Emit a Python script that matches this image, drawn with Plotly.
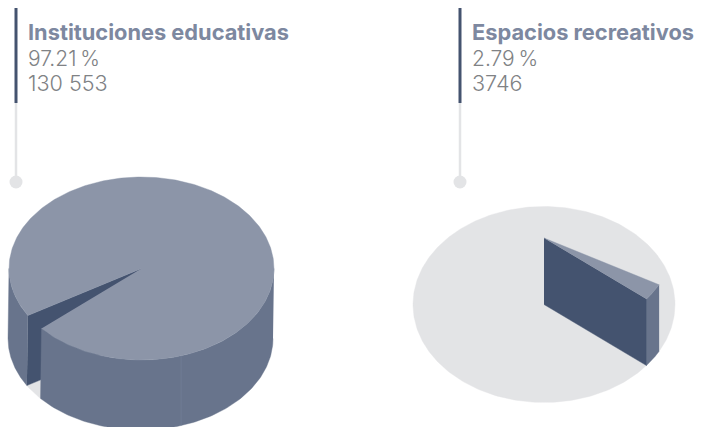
import numpy as np
import plotly.graph_objects as go

categories = ["Instituciones educativas", "Espacios recreativos"]
shares = [97.21, 2.79]
share_labels = ["97.21\u2009%", "2.79\u2009%"]
count_labels = ["130 553", "3746"]

TOP = "#8c95a8"
SIDE = "#68748c"
DARK = "#44536f"
PALE = "#e3e4e6"
TITLE = "#7d88a0"
GREY = "#808285"

fig = go.Figure()

def poly(x, y, color):
    fig.add_trace(go.Scatter(x=x, y=y, mode="lines", fill="toself", fillcolor=color,
                             line=dict(color=color, width=0.4), hoverinfo="skip", showlegend=False))

def arc(cx, cy, rx, ry, a0, a1, n=120):
    t = np.radians(np.linspace(a0, a1, n))
    return cx + rx * np.cos(t), cy + ry * np.sin(t)

def join(*parts):
    return (np.concatenate([p[0] for p in parts]), np.concatenate([p[1] for p in parts]))

def pt(x, y):
    return (np.array([x], float), np.array([y], float))

sweep = shares[1] / 100 * 360

# Left pie: large body with the small share cut out
cx, cy, rx, ry, dx, dy = 141.5, 268.5, 132.5, 91.5, -1, 70
a1 = 139.0
a2 = a1 + sweep
# floor of the gap
fx, fy = arc(cx + dx, cy + dy, rx, ry, a1, a2)
poly(*join(pt(cx + dx, cy + dy), (fx, fy)), PALE)
# far wall of the gap
px, py = arc(cx, cy, rx, ry, a2, a2, 1)
poly(*join(pt(cx, cy), (px, py), (px + dx, py + dy), pt(cx + dx, cy + dy)), DARK)
# outer sides
ax, ay = arc(cx, cy, rx, ry, a2, 180)
poly(*join((ax, ay), (ax[::-1] + dx, ay[::-1] + dy)), SIDE)
ax, ay = arc(cx, cy, rx, ry, 0, a1)
poly(*join((ax, ay), (ax[::-1] + dx, ay[::-1] + dy)), SIDE)
# seam on the side
sx, sy = arc(cx, cy, rx, ry, 72.6, 72.6, 1)
fig.add_trace(go.Scatter(x=[sx[0], sx[0]], y=[sy[0], sy[0] + dy], mode="lines",
                         line=dict(color="#76819a", width=0.6), hoverinfo="skip", showlegend=False))
# top face
ax, ay = arc(cx, cy, rx, ry, a2, a1 + 360, 400)
poly(*join(pt(cx, cy), (ax, ay)), TOP)

# Right pie: pale base with the small share lifted
cx, cy, rx, ry, dy = 544, 304.5, 131, 98, 66.5
ax, ay = arc(cx, cy, rx, ry, 0, 360, 300)
poly(ax, ay, PALE)
b1 = 28.5
b2 = b1 + sweep
ax, ay = arc(cx, cy - dy, rx, ry, b1, b2, 30)
poly(*join((ax, ay), (ax[::-1], ay[::-1] + dy)), SIDE)
poly(*join(pt(cx, cy - dy), pt(ax[-1], ay[-1]), pt(ax[-1], ay[-1] + dy), pt(cx, cy)), DARK)
poly(*join(pt(cx, cy - dy), (ax, ay)), TOP)

# Leader lines, dots and labels
for lx, tx, name, pct, cnt in zip([16, 460], [26, 470], categories, share_labels, count_labels):
    fig.add_trace(go.Scatter(x=[lx, lx], y=[103, 182], mode="lines", line=dict(color=PALE, width=2.5),
                             hoverinfo="skip", showlegend=False))
    fig.add_trace(go.Scatter(x=[lx, lx], y=[8, 103], mode="lines", line=dict(color=DARK, width=3),
                             hoverinfo="skip", showlegend=False))
    fig.add_trace(go.Scatter(x=[lx], y=[182], mode="markers", marker=dict(color=PALE, size=13, line=dict(width=0)),
                             hoverinfo="skip", showlegend=False))
    fig.add_annotation(x=tx, y=32, text=name, showarrow=False, xanchor="left", yanchor="middle",
                       font=dict(family="Inter", size=21.8, color=TITLE, weight=700))
    fig.add_annotation(x=tx, y=58, text=pct, showarrow=False, xanchor="left", yanchor="middle",
                       font=dict(family="Inter", size=21, color=GREY, weight=300))
    fig.add_annotation(x=tx, y=83, text=cnt, showarrow=False, xanchor="left", yanchor="middle",
                       font=dict(family="Inter", size=21.6, color=GREY, weight=300))

fig.update_layout(width=702, height=427, margin=dict(l=0, r=0, t=0, b=0), autosize=False,
                  paper_bgcolor="white", plot_bgcolor="white", showlegend=False,
                  xaxis=dict(range=[0, 702], visible=False, fixedrange=True),
                  yaxis=dict(range=[427, 0], visible=False, fixedrange=True))
fig.write_html("out.html", config=dict(displayModeBar=False),
               post_script="document.body.style.margin='0';")
